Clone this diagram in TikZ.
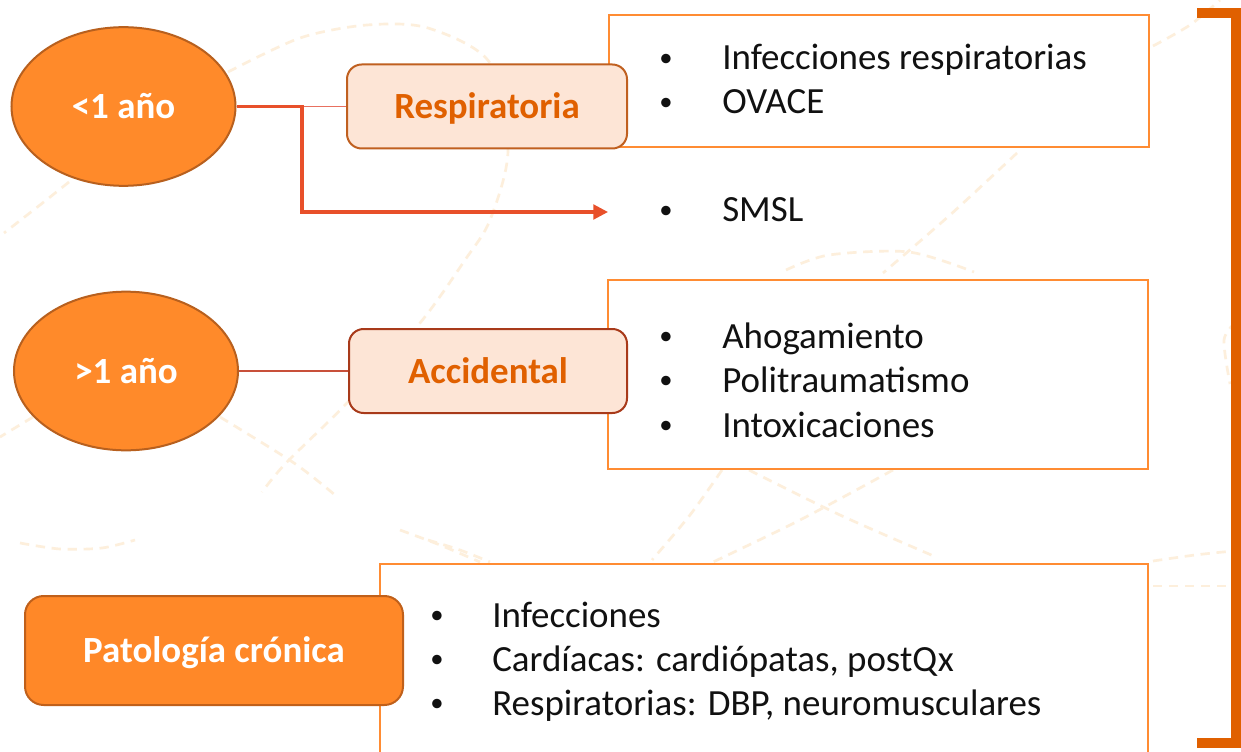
\documentclass[tikz,border=0pt]{standalone}
\usepackage{fontspec}
\setmainfont{Carlito}
\usetikzlibrary{arrows.meta,shapes.geometric}
\definecolor{ellfill}{HTML}{FF8A2A}
\definecolor{elldraw}{HTML}{B8601E}
\definecolor{lightfill}{HTML}{FDE5D6}
\definecolor{respdraw}{HTML}{C06020}
\definecolor{accdraw}{HTML}{A83A1A}
\definecolor{labeltext}{HTML}{E06000}
\definecolor{listdraw}{HTML}{FF8C33}
\definecolor{bracketcol}{HTML}{E06000}
\definecolor{arrowred}{HTML}{E8502A}
\definecolor{thinred}{HTML}{E87060}
\definecolor{thinred2}{HTML}{C8503A}
\definecolor{bgline}{HTML}{FDEFDC}
\definecolor{patfill}{HTML}{FF8828}
\definecolor{patdraw}{HTML}{C0601A}
\definecolor{itemtext}{HTML}{111111}
\newcommand{\bigtxt}{\fontsize{27.7}{33}\selectfont}
\begin{document}
\begin{tikzpicture}[x=0.75pt,y=-0.75pt,
  ellnode/.style={ellipse,fill=ellfill,draw=elldraw,line width=1.5pt,inner sep=0pt,
    text=white,font=\bigtxt\bfseries,
    text height=18pt,text depth=0pt,minimum width=168pt,minimum height=119pt},
  catbox/.style={rectangle,rounded corners=11pt,fill=lightfill,line width=1.5pt,inner sep=0pt,
    text=labeltext,font=\bigtxt\bfseries,
    text height=18pt,text depth=0pt,minimum height=63pt},
  patbox/.style={rectangle,rounded corners=14pt,fill=patfill,draw=patdraw,line width=1.5pt,inner sep=0pt,
    text=white,font=\bigtxt\bfseries,
    text height=18pt,text depth=0pt,minimum width=283.5pt,minimum height=81.75pt},
  listbox/.style={rectangle,draw=listdraw,fill=white,line width=2pt,inner sep=0pt},
  itemtxt/.style={anchor=base west,inner sep=0pt,text=itemtext,font=\bigtxt},
  bul/.style={anchor=base,inner sep=0pt,text=itemtext,font=\fontsize{20}{24}\selectfont,yshift=2.5pt},
  bgdash/.style={draw=bgline,line width=2pt,dash pattern=on 7pt off 5pt},
  thinline/.style={draw=thinred,line width=1pt},
  thinline2/.style={draw=thinred2,line width=1pt},
  redline/.style={draw=arrowred,line width=2.3pt,-{Triangle[length=11pt,width=11pt]}},
  bracketline/.style={draw=bracketcol,line width=7.5pt,line join=miter}
]
\useasboundingbox (0,0) rectangle (1241,752);
\fill[white] (0,0) rectangle (1241,752);

% background decoration
\draw[bgdash] plot[smooth] coordinates {(228,72) (300,38) (367,25) (428,28) (490,63) (508,150) (490,220) (465,260) (420,323) (347,403) (286,463) (262,492)};
\draw[bgdash] plot[smooth] coordinates {(69,182) (40,205) (4,233)};
\draw[bgdash] plot[smooth] coordinates {(33,417) (0,437)};
\draw[bgdash] plot[smooth] coordinates {(220,417) (294,463) (335,495)};
\draw[bgdash] plot[smooth] coordinates {(20,543) (60,549) (102,548) (135,540)};
\draw[bgdash] plot[smooth] coordinates {(400,530) (440,545) (480,562)};
\draw[bgdash] plot[smooth] coordinates {(428,540) (460,550) (490,562)};
\draw[bgdash] plot[smooth] coordinates {(1017,153) (950,215) (883,273)};
\draw[bgdash] plot[smooth] coordinates {(786,270) (829,255) (909,252) (974,272)};
\draw[bgdash] plot[smooth] coordinates {(722,470) (690,515) (652,560)};
\draw[bgdash] plot[smooth] coordinates {(749,470) (840,515) (936,557)};
\draw[bgdash] plot[smooth] coordinates {(893,470) (800,520) (711,563)};
\draw[bgdash] plot[smooth] coordinates {(1153,561) (1195,555) (1233,551)};
\draw[bgdash] (1153,586) -- (1233,586);
\draw[bgdash] plot[smooth] coordinates {(1153,46) (1190,25) (1220,0)};
\draw[bgdash] plot[smooth] coordinates {(1236,322) (1224,340) (1230,384)};

% list boxes
\node[listbox,minimum width=405pt,minimum height=99pt] (box1) at (879,81) {};
\node[listbox,minimum width=405pt,minimum height=141.75pt] (box2) at (878,374.5) {};
\node[listbox,minimum width=576pt,minimum height=177pt] (box3) at (764,682) {};

% ellipses and category boxes
\node[ellnode] (e1) at (123.5,106.5) {<1 año};
\node[ellnode] (e2) at (126,371) {>1 año};
\node[catbox,draw=respdraw,minimum width=210pt] (resp) at (487,106.5) {Respiratoria};
\node[catbox,draw=accdraw,minimum width=208.5pt] (acc) at (488,371) {Accidental};
\node[patbox] (pat) at (214,650.5) {Patología crónica};

% connectors
\coordinate (jn) at (302,106.5);
\coordinate (smslin) at (608,212);
\draw[thinline] (e1.east) -- (resp.west);
\draw[redline] (e1.east) -- (jn) |- (smslin);
\draw[thinline2] (e2.east) -- (acc.west);

% items
\node[bul] (b11) at (666,70) {•};
\node[itemtxt] (t11) at (722,70) {Infecciones respiratorias};
\node[bul] (b12) at (666,114) {•};
\node[itemtxt] (t12) at (722,114) {OVACE};
\node[bul] (b13) at (666,222) {•};
\node[itemtxt] (t13) at (722,222) {SMSL};

\node[bul] (b21) at (666,348) {•};
\node[itemtxt] (t21) at (722,348) {Ahogamiento};
\node[bul] (b22) at (666,392) {•};
\node[itemtxt] (t22) at (722,392) {Politraumatismo};
\node[bul] (b23) at (666,437) {•};
\node[itemtxt] (t23) at (722,437) {Intoxicaciones};

\node[bul] (b31) at (437,627) {•};
\node[itemtxt] (t31) at (492,627) {Infecciones};
\node[bul] (b32) at (437,671) {•};
\node[itemtxt] (t32) at (492,671) {Cardíacas: cardiópatas, postQx};
\node[bul] (b33) at (437,715) {•};
\node[itemtxt] (t33) at (492,715) {Respiratorias: DBP, neuromusculares};

% bracket
\coordinate (brA) at (1197,13);
\coordinate (brB) at (1236,13);
\coordinate (brC) at (1236,743);
\coordinate (brD) at (1197,743);
\draw[bracketline] (brA) -- (brB) -- (brC) -- (brD);
\end{tikzpicture}
\end{document}
